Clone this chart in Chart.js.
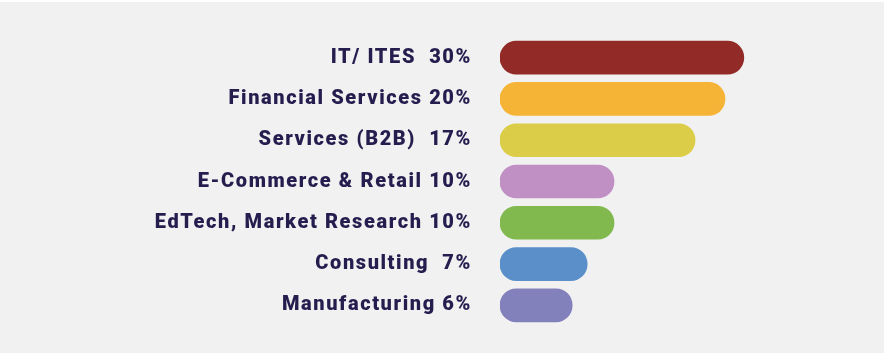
<!DOCTYPE html>
<html>
<head>
<meta charset="utf-8">
<script src="https://cdn.jsdelivr.net/npm/chart.js@4/dist/chart.umd.min.js"></script>
<style>
  html, body { margin: 0; padding: 0; background: #f1f1f1; }
  body { border-top: 2px solid #ffffff; }
  #wrap { width: 884px; height: 351px; position: relative; }
</style>
</head>
<body>
<div id="wrap"><canvas id="sektorChart"></canvas></div>
<script>
// Label kategori persis seperti di gambar
const tickLabels = [
    "IT/ ITES  30%",
    "Financial Services 20%",
    "Services (B2B)  17%",
    "E-Commerce & Retail 10%",
    "EdTech, Market Research 10%",
    "Consulting  7%",
    "Manufacturing 6%"
];

// Persentase yang tertulis di label
const shares = [30, 20, 17, 10, 10, 7, 6];

// Panjang batang yang terlihat di gambar (skala 0-100)
const barLength = [63.5, 58.6, 50.8, 29.7, 29.7, 22.7, 18.8];

const barColors = ["#922a27", "#f5b435", "#dbcd48", "#c08fc3", "#82b94f", "#5a8fca", "#8381bc"];

// jarak antar huruf, label di gambar agak renggang
const spacingPlugin = {
    id: "letterSpacing",
    beforeDraw(chart) {
        chart.ctx.letterSpacing = "1.6px";
    }
};

document.addEventListener("DOMContentLoaded", function () {
    "use strict";
    const ctx = document.getElementById("sektorChart").getContext("2d");

    window.chart1 = new Chart(ctx, {
        type: "bar",
        data: {
            labels: tickLabels,
            datasets: [{
                label: "Share",
                data: barLength,
                backgroundColor: barColors,
                borderWidth: 0,
                borderRadius: 17,
                borderSkipped: false,
                barThickness: 33
            }]
        },
        options: {
            indexAxis: "y",
            responsive: true,
            maintainAspectRatio: false,
            animation: false,
            layout: {
                padding: { top: 35, bottom: 27, left: 0, right: 0 }
            },
            scales: {
                x: {
                    min: 0,
                    max: 100,
                    display: false
                },
                y: {
                    grid: { display: false, drawTicks: false },
                    border: { display: false },
                    afterFit: function (scale) {
                        scale.width = 500;
                        scale.paddingTop = 0;
                        scale.paddingBottom = 0;
                    },
                    ticks: {
                        padding: 28,
                        color: "#261d4f",
                        font: { family: "Roboto", size: 20, weight: 900 }
                    }
                }
            },
            plugins: {
                legend: { display: false },
                tooltip: { enabled: false }
            }
        },
        plugins: [spacingPlugin]
    });
});
</script>
</body>
</html>
